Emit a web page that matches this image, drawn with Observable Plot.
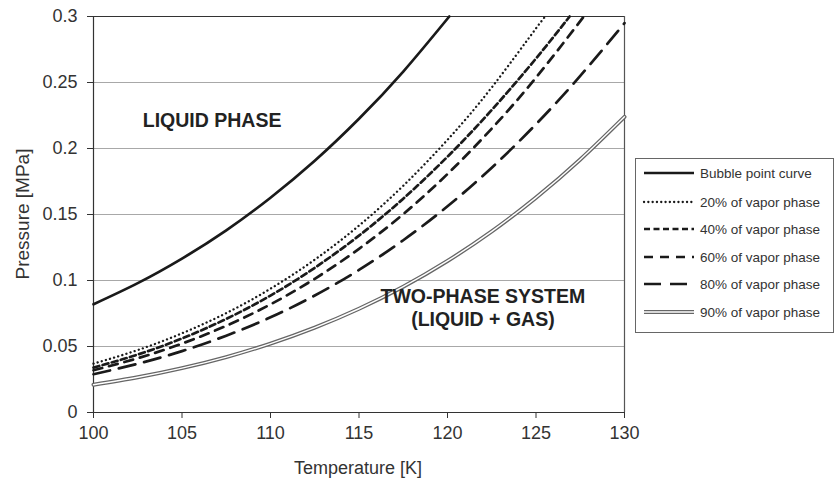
<!DOCTYPE html>
<html>
<head>
<meta charset="utf-8">
<script src="https://cdn.jsdelivr.net/npm/d3@7"></script>
<script src="https://cdn.jsdelivr.net/npm/@observablehq/plot@0.6"></script>
<style>
  html, body { margin: 0; padding: 0; background: #fff; }
  #wrap { position: relative; width: 837px; height: 485px; font-family: "Liberation Sans", Arial, sans-serif; }
  #legend { position: absolute; left: 635px; top: 158px; width: 199px; height: 175px; border: 1px solid #666; box-sizing: border-box; background: #fff; }
  .row { position: absolute; left: 6px; height: 20px; display: flex; align-items: center; font-size: 13.5px; color: #333; white-space: nowrap; }
  .row svg { margin-right: 4px; }
</style>
</head>
<body>
<div id="wrap"></div>
<script>
// Temperature [K] and pressure [MPa] for each curve
const seriesNames = ["Bubble point curve", "20% of vapor phase", "40% of vapor phase", "60% of vapor phase", "80% of vapor phase", "90% of vapor phase"];

const bubbleT = [100, 102.5, 105, 107.5, 110, 112.5, 115, 117.5, 120.1];
const bubbleP = [0.082, 0.098, 0.1166, 0.138, 0.1627, 0.1907, 0.2225, 0.2583, 0.300];

const vap20T = [100, 102.5, 105, 107.5, 110, 112.5, 115, 117.5, 120, 122.5, 125, 125.55];
const vap20P = [0.037, 0.0473, 0.060, 0.0753, 0.0938, 0.1158, 0.1416, 0.1718, 0.2066, 0.2463, 0.291, 0.300];

const vap40T = [100, 102.5, 105, 107.5, 110, 112.5, 115, 117.5, 120, 122.5, 125, 126.9];
const vap40P = [0.034, 0.0439, 0.0561, 0.0709, 0.0886, 0.1096, 0.134, 0.162, 0.1938, 0.2292, 0.2682, 0.300];

const vap60T = [100, 102.5, 105, 107.5, 110, 112.5, 115, 117.5, 120, 122.5, 125, 127.7];
const vap60P = [0.032, 0.0411, 0.0522, 0.0657, 0.0819, 0.1013, 0.124, 0.1503, 0.1807, 0.2151, 0.2537, 0.300];

const vap80T = [100, 102.5, 105, 107.5, 110, 112.5, 115, 117.5, 120, 122.5, 125, 127.5, 130];
const vap80P = [0.029, 0.0369, 0.0465, 0.0582, 0.0721, 0.0886, 0.108, 0.1305, 0.1562, 0.1855, 0.2184, 0.255, 0.295];

const vap90T = [100, 102.5, 105, 107.5, 110, 112.5, 115, 117.5, 120, 122.5, 125, 127.5, 130];
const vap90P = [0.021, 0.0267, 0.0336, 0.042, 0.0522, 0.0643, 0.0786, 0.0953, 0.1148, 0.1372, 0.1628, 0.1917, 0.224];

const xTicks = [100, 105, 110, 115, 120, 125, 130];
const yTicks = [0, 0.05, 0.1, 0.15, 0.2, 0.25, 0.3];
const yTickLabels = ["0", "0.05", "0.1", "0.15", "0.2", "0.25", "0.3"];

const regionLabels = ["LIQUID PHASE", "TWO-PHASE SYSTEM", "(LIQUID + GAS)"];
const regionT = [106.7, 122.0, 122.0];
const regionP = [0.221, 0.0875, 0.0705];

const toRows = (T, P) => T.map((t, i) => ({T: t, P: P[i]}));
const curves = [
  toRows(bubbleT, bubbleP), toRows(vap20T, vap20P), toRows(vap40T, vap40P),
  toRows(vap60T, vap60P), toRows(vap80T, vap80P), toRows(vap90T, vap90P)
];
const styles = [
  {stroke: "#1a1a1a", strokeWidth: 2.7},
  {stroke: "#1a1a1a", strokeWidth: 2.3, strokeDasharray: "0.1,4.2", strokeLinecap: "round"},
  {stroke: "#1a1a1a", strokeWidth: 2.7, strokeDasharray: "6,3.5"},
  {stroke: "#1a1a1a", strokeWidth: 2.7, strokeDasharray: "9,7"},
  {stroke: "#1a1a1a", strokeWidth: 2.7, strokeDasharray: "17,9"},
  {stroke: "#666", strokeWidth: 4}
];

const labels = regionLabels.map((s, i) => ({s, T: regionT[i], P: regionP[i]}));

const marks = [
  Plot.ruleY(yTicks.slice(1, -1), {stroke: "#a8a8a8", strokeWidth: 1}),
  Plot.axisY({ticks: yTicks, tickFormat: d => yTickLabels[yTicks.indexOf(d)], tickSize: 6, tickPadding: 10, fontSize: 18, color: "#333", label: null}),
  Plot.axisX({ticks: xTicks, tickFormat: d => String(d), tickSize: 6, tickPadding: 8, fontSize: 18, color: "#333", label: null}),
  Plot.ruleY([0.3], {stroke: "#333", strokeWidth: 1.2}),
  Plot.ruleX([130], {stroke: "#555", strokeWidth: 1.2}),
  Plot.ruleX([100], {stroke: "#333", strokeWidth: 1.2}),
  Plot.ruleY([0], {stroke: "#333", strokeWidth: 1.2}),
];
curves.forEach((rows, i) => {
  marks.push(Plot.line(rows, {x: "T", y: "P", curve: "natural", ...styles[i]}));
  if (i === 5) marks.push(Plot.line(rows, {x: "T", y: "P", curve: "natural", stroke: "#fff", strokeWidth: 1.4}));
});
marks.push(Plot.text(labels, {x: "T", y: "P", text: "s", fontSize: 19.5, fontWeight: "bold", fill: "#222", textAnchor: "middle"}));

const chart = Plot.plot({
  width: 837,
  height: 485,
  marginLeft: 93,
  marginRight: 213,
  marginTop: 16,
  marginBottom: 73,
  style: {fontFamily: "'Liberation Sans', Arial, sans-serif", background: "#fff"},
  x: {domain: [100, 130]},
  y: {domain: [0, 0.3]},
  marks
});
const wrap = document.getElementById("wrap");
wrap.appendChild(chart);

// Axis titles
const svg = d3.select(chart);
svg.append("text").attr("x", 358).attr("y", 474).attr("text-anchor", "middle")
  .attr("font-size", 18).attr("fill", "#333").text("Temperature [K]");
svg.append("text").attr("transform", "translate(29,214) rotate(-90)").attr("text-anchor", "middle")
  .attr("font-size", 19).attr("fill", "#333").text("Pressure [MPa]");

// Legend
const legend = document.createElement("div");
legend.id = "legend";
const rowTops = [173, 202, 229, 257, 284, 312];
seriesNames.forEach((name, i) => {
  const row = document.createElement("div");
  row.className = "row";
  row.style.top = (rowTops[i] - 158 - 11) + "px";
  const st = styles[i];
  let line = `<line x1="2" y1="5" x2="52" y2="5" stroke="${st.stroke}" stroke-width="${st.strokeWidth}" ${st.strokeDasharray ? `stroke-dasharray="${st.strokeDasharray}"` : ""} ${st.strokeLinecap ? `stroke-linecap="${st.strokeLinecap}"` : ""}/>`;
  if (i === 5) line += `<line x1="2" y1="5" x2="52" y2="5" stroke="#fff" stroke-width="1.4"/>`;
  row.innerHTML = `<svg width="54" height="10">${line}</svg><span>${name}</span>`;
  legend.appendChild(row);
});
wrap.appendChild(legend);
</script>
</body>
</html>
